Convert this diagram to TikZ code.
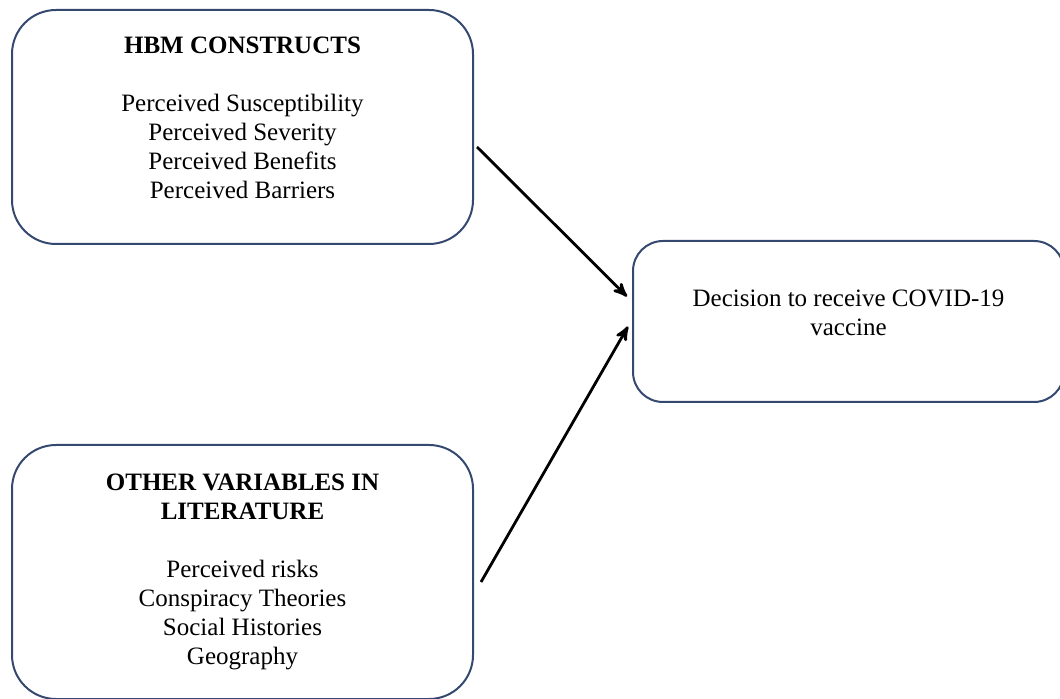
\documentclass[tikz,border=0pt]{standalone}
\usepackage{fontspec}
\setmainfont{Liberation Serif}
\usepackage{tikz}
\usetikzlibrary{arrows,positioning}
\definecolor{boxblue}{RGB}{52,72,112}
\tikzset{
    %Define standard arrow tip
    >=stealth',
    %Define style for boxes
    punktrect/.style={
           rectangle,
           rounded corners=22pt,
           draw=boxblue, line width=1pt,
           align=center,
           font=\fontsize{12.5pt}{14.5pt}\selectfont,
           text centered},
    % Define arrow style
    pil/.style={
           ->,
           line width=1.4pt,
           black}
}
\begin{document}
\begin{tikzpicture}[x=0.5pt,y=-0.5pt,node distance=99.5pt]
\useasboundingbox (0,0) rectangle (1060,699);
\node[punktrect, minimum width=230.5pt, minimum height=117pt](hbm) at (242.5,127)
  {\textbf{HBM CONSTRUCTS}\\[14.5pt]
   Perceived Susceptibility\\Perceived Severity\\Perceived Benefits\\Perceived Barriers\\[-5.5pt]};
\node[punktrect, minimum width=230.5pt, minimum height=127pt, below=of hbm](other)
  {\textbf{OTHER VARIABLES IN}\\\textbf{LITERATURE}\\[14.5pt]
   Perceived risks\\Conspiracy Theories\\Social Histories\\Geography};
\node[punktrect, rounded corners=15pt, minimum width=215.5pt, minimum height=80.5pt](dec) at (848.5,321.5)
  {Decision to receive COVID-19\\vaccine\\[-6pt]};
\draw[pil] ([xshift=1.5pt,yshift=-10pt]hbm.east) -- ([xshift=-2.5pt,yshift=12.5pt]dec.west);
\draw[pil] ([xshift=3.5pt,yshift=-5pt]other.east) -- ([xshift=-2pt,yshift=-2.5pt]dec.west);
\end{tikzpicture}
\end{document}
